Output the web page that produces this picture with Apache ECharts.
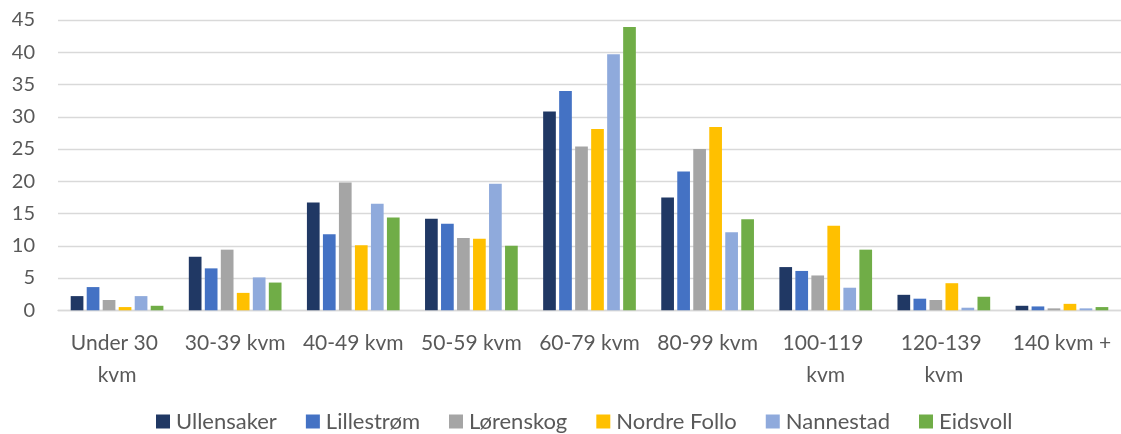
<!DOCTYPE html>
<html>
<head>
<meta charset="utf-8">
<script src="https://cdn.jsdelivr.net/npm/echarts@6/dist/echarts.min.js"></script>
<style>
html,body{margin:0;padding:0;background:#fff;}
#chart{width:1121px;height:434px;}
</style>
</head>
<body>
<div id="chart"></div>
<script>
const categories = ["Under 30 kvm","30-39 kvm","40-49 kvm","50-59 kvm","60-79 kvm","80-99 kvm","100-119 kvm","120-139 kvm","140 kvm +"];
const seriesNames = ["Ullensaker","Lillestrøm","Lørenskog","Nordre Follo","Nannestad","Eidsvoll"];
const ullensaker  = [2.2, 8.3, 16.7, 14.2, 30.8, 17.5, 6.7, 2.4, 0.7];
const lillestrom  = [3.6, 6.5, 11.8, 13.4, 34.0, 21.5, 6.1, 1.8, 0.6];
const lorenskog   = [1.6, 9.4, 19.8, 11.2, 25.4, 25.0, 5.4, 1.6, 0.3];
const nordreFollo = [0.5, 2.7, 10.1, 11.1, 28.1, 28.4, 13.1, 4.2, 1.0];
const nannestad   = [2.2, 5.1, 16.5, 19.6, 39.7, 12.1, 3.5, 0.4, 0.3];
const eidsvoll    = [0.7, 4.3, 14.4, 10.0, 43.9, 14.1, 9.4, 2.1, 0.5];
const colors = ["#203864","#4472C4","#A5A5A5","#FFC000","#8FAADC","#70AD47"];
const yTicks = {min:0, max:45, interval:5};

const allData = [ullensaker, lillestrom, lorenskog, nordreFollo, nannestad, eidsvoll];
const font = "Lato, 'Open Sans', sans-serif";
const textColor = "#595959";

const chart = echarts.init(document.getElementById('chart'));
chart.setOption({
  animation: false,
  color: colors,
  grid: {left: 58, right: -4, top: 20, bottom: 123.7, containLabel: false},
  legend: {
    data: seriesNames,
    left: 151, top: 405.5,
    itemWidth: 14, itemHeight: 14, itemGap: 29,
    icon: 'rect',
    textStyle: {color: textColor, fontSize: 22, fontFamily: font, padding: [0,0,0,1]}
  },
  xAxis: {
    type: 'category',
    data: categories,
    axisLine: {show: true, lineStyle: {color: '#d9d9d9', width: 1.3}},
    axisTick: {show: false},
    axisLabel: {
      color: textColor, fontSize: 21, fontFamily: font,
      margin: 17, width: 108, overflow: 'break', lineHeight: 32, interval: 0
    }
  },
  yAxis: {
    type: 'value',
    min: yTicks.min, max: yTicks.max, interval: yTicks.interval,
    axisLine: {show: false},
    axisTick: {show: false},
    splitLine: {lineStyle: {color: '#d9d9d9', width: 1.3}},
    axisLabel: {color: textColor, fontSize: 20, fontFamily: font, margin: 23}
  },
  series: seriesNames.map((name, i) => ({
    name: name,
    type: 'bar',
    data: allData[i],
    barWidth: 12.7,
    barGap: '26%',
    itemStyle: {color: colors[i]}
  }))
});
</script>
</body>
</html>
